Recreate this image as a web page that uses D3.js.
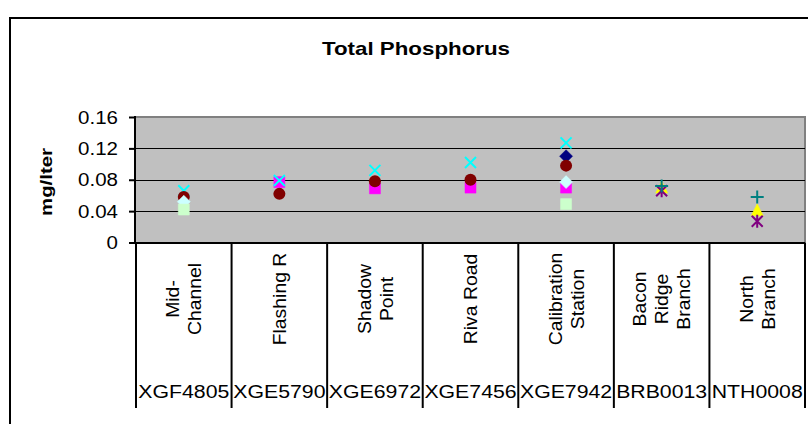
<!DOCTYPE html>
<html>
<head>
<meta charset="utf-8">
<script src="https://cdn.jsdelivr.net/npm/d3@7"></script>
<style>
  html, body { margin: 0; padding: 0; background: #fff; }
  svg { display: block; font-family: "Liberation Sans", Arial, sans-serif; }
</style>
</head>
<body>
<svg id="chart" width="808" height="424"></svg>
<script>
// ---------------- DATA ----------------
const chartTitle = "Total Phosphorus";
const yAxisTitle = "mg/lter";
const stationCodes = ["XGF4805", "XGE5790", "XGE6972", "XGE7456", "XGE7942", "BRB0013", "NTH0008"];
const stationNames = [["Mid-", "Channel"], ["Flashing R"], ["Shadow", "Point"], ["Riva Road"], ["Calibration", "Station"], ["Bacon", "Ridge", "Branch"], ["North", "Branch"]];
const yTickValues = [0, 0.04, 0.08, 0.12, 0.16];
const yTickLabels = ["0", "0.04", "0.08", "0.12", "0.16"];

// one array per series (null = no sample)
const series1 = [null, null, null, null, 0.110, null, null];
const series2 = [null, 0.077, 0.069, 0.070, 0.070, null, null];
const series3 = [null, null, null, null, null, 0.070, 0.041];
const series4 = [0.066, 0.079, 0.092, 0.102, 0.127, null, null];
const series5 = [null, null, null, null, null, 0.066, 0.027];
const series6 = [0.058, 0.062, 0.078, 0.080, 0.098, null, null];
const series7 = [null, null, null, null, null, 0.072, 0.058];
const series10 = [0.052, null, null, null, 0.077, null, null];
const series11 = [0.042, null, null, null, 0.049, null, null];

// ---------------- STYLE ----------------
const seriesStyles = [
  { values: series1, marker: "diamond", color: "#000080" },
  { values: series2, marker: "square", color: "#FF00FF" },
  { values: series3, marker: "triangle", color: "#FFFF00" },
  { values: series4, marker: "x", color: "#00FFFF" },
  { values: series5, marker: "star", color: "#800080" },
  { values: series6, marker: "circle", color: "#800000" },
  { values: series7, marker: "plus", color: "#008080" },
  { values: series10, marker: "diamond", color: "#CCFFFF" },
  { values: series11, marker: "square", color: "#CCFFCC" }
];

const svg = d3.select("#chart");
const plot = { left: 136, right: 805, top: 117, bottom: 242.5 };
const labelBottom = 408;

const x = d3.scaleBand().domain(stationCodes).range([plot.left, plot.right]);
const y = d3.scaleLinear().domain([0, 0.16]).range([plot.bottom, plot.top]);

// outer chart border (extends beyond the picture)
svg.append("rect").attr("x", 10).attr("y", 18).attr("width", 840).attr("height", 460)
  .attr("fill", "#fff").attr("stroke", "#000").attr("stroke-width", 2);

// plot area
svg.append("rect").attr("x", plot.left).attr("y", plot.top)
  .attr("width", plot.right - plot.left).attr("height", plot.bottom - plot.top)
  .attr("fill", "#C0C0C0");
svg.append("path")
  .attr("d", `M${plot.left},${plot.top} H${plot.right} V${plot.bottom}`)
  .attr("fill", "none").attr("stroke", "#808080").attr("stroke-width", 2);

// gridlines
svg.append("g").selectAll("line").data(yTickValues.filter(v => v > 0 && v < 0.16)).join("line")
  .attr("x1", plot.left).attr("x2", plot.right)
  .attr("y1", d => Math.round(y(d)) + 0.5).attr("y2", d => Math.round(y(d)) + 0.5)
  .attr("stroke", "#000").attr("stroke-width", 1);

// stretched text helper
function stretchedText(parent, txt, px, py, opts) {
  const g = parent.append("g").attr("transform", `translate(${px},${py}) rotate(${opts.rotate || 0})`);
  return g.append("text").text(txt)
    .attr("transform", `scale(${opts.sx || 1},1)`)
    .attr("text-anchor", opts.anchor || "middle")
    .attr("dy", opts.dy || "0")
    .attr("font-size", opts.size || 18)
    .attr("font-weight", opts.weight || "normal")
    .attr("fill", "#000");
}

// y axis
const yAxis = d3.axisLeft(y).tickValues(yTickValues).tickSize(6).tickPadding(10)
  .tickFormat((d, i) => yTickLabels[i]);
const yg = svg.append("g").attr("transform", `translate(${plot.left - 1},0)`).call(yAxis);
yg.select(".domain").attr("stroke", "#000").attr("stroke-width", 2).attr("d", `M0,${plot.top - 1}V${plot.bottom + 1}`);
yg.selectAll(".tick line").attr("stroke", "#000").attr("stroke-width", 2);
yg.selectAll(".tick text").each(function (d, i) {
  const t = d3.select(this);
  const ty = y(d);
  t.remove();
  stretchedText(yg, yTickLabels[i], -17, ty, { anchor: "end", sx: 1.08, size: 19, dy: "0.35em" });
});

// x axis line
svg.append("line").attr("x1", plot.left - 7).attr("x2", plot.right)
  .attr("y1", plot.bottom + 0.5).attr("y2", plot.bottom + 0.5)
  .attr("stroke", "#000").attr("stroke-width", 2);

// category separators through label area
const bounds = stationCodes.map(c => x(c)).concat([x.range()[1]]);
svg.append("g").selectAll("line").data(bounds).join("line")
  .attr("x1", d => d).attr("x2", d => d)
  .attr("y1", plot.bottom).attr("y2", labelBottom)
  .attr("stroke", "#000").attr("stroke-width", 2);

// station name labels (rotated, multi-line)
const nameG = svg.append("g");
stationCodes.forEach((code, i) => {
  const lines = stationNames[i];
  const cx = x(code) + x.bandwidth() / 2;
  const spacing = 22;
  lines.forEach((ln, j) => {
    const lx = cx + (j - (lines.length - 1) / 2) * spacing;
    stretchedText(nameG, ln, lx, 299, { rotate: -90, sx: 1.02, size: 19, dy: "0.35em" });
  });
});

// station code labels
const codeG = svg.append("g");
stationCodes.forEach(code => {
  stretchedText(codeG, code, x(code) + x.bandwidth() / 2, 398, { sx: 1.12, size: 19 });
});

// titles
stretchedText(svg, chartTitle, 416, 55, { sx: 1.24, size: 18, weight: "bold" });
stretchedText(svg, yAxisTitle, 52, 182, { rotate: -90, sx: 1.2, size: 17, weight: "bold" });

// markers
function markerPath(type) {
  switch (type) {
    case "diamond": return "M0,-6.5L6.5,0L0,6.5L-6.5,0Z";
    case "square": return "M-5.5,-5.5H5.5V5.5H-5.5Z";
    case "triangle": return "M0,-6.5L6,5.5L-6,5.5Z";
    case "x": return "M-5.5,-5.5L5.5,5.5M5.5,-5.5L-5.5,5.5";
    case "star": return "M-5.5,-5.5L5.5,5.5M5.5,-5.5L-5.5,5.5M0,-6.5V6.5";
    case "plus": return "M-6.5,0H6.5M0,-6.5V6.5";
    default: return "";
  }
}
const markG = svg.append("g");
seriesStyles.forEach(s => {
  const pts = s.values.map((v, i) => ({ v, code: stationCodes[i] })).filter(p => p.v != null);
  const g = markG.append("g");
  pts.forEach(p => {
    const px = x(p.code) + x.bandwidth() / 2;
    const py = y(p.v);
    if (s.marker === "circle") {
      g.append("circle").attr("cx", px).attr("cy", py).attr("r", 6).attr("fill", s.color);
    } else if (["x", "star", "plus"].includes(s.marker)) {
      g.append("path").attr("transform", `translate(${px},${py})`).attr("d", markerPath(s.marker))
        .attr("fill", "none").attr("stroke", s.color).attr("stroke-width", 2);
    } else {
      g.append("path").attr("transform", `translate(${px},${py})`).attr("d", markerPath(s.marker))
        .attr("fill", s.color).attr("stroke", s.color).attr("stroke-width", 0.5);
    }
  });
});
</script>
</body>
</html>
